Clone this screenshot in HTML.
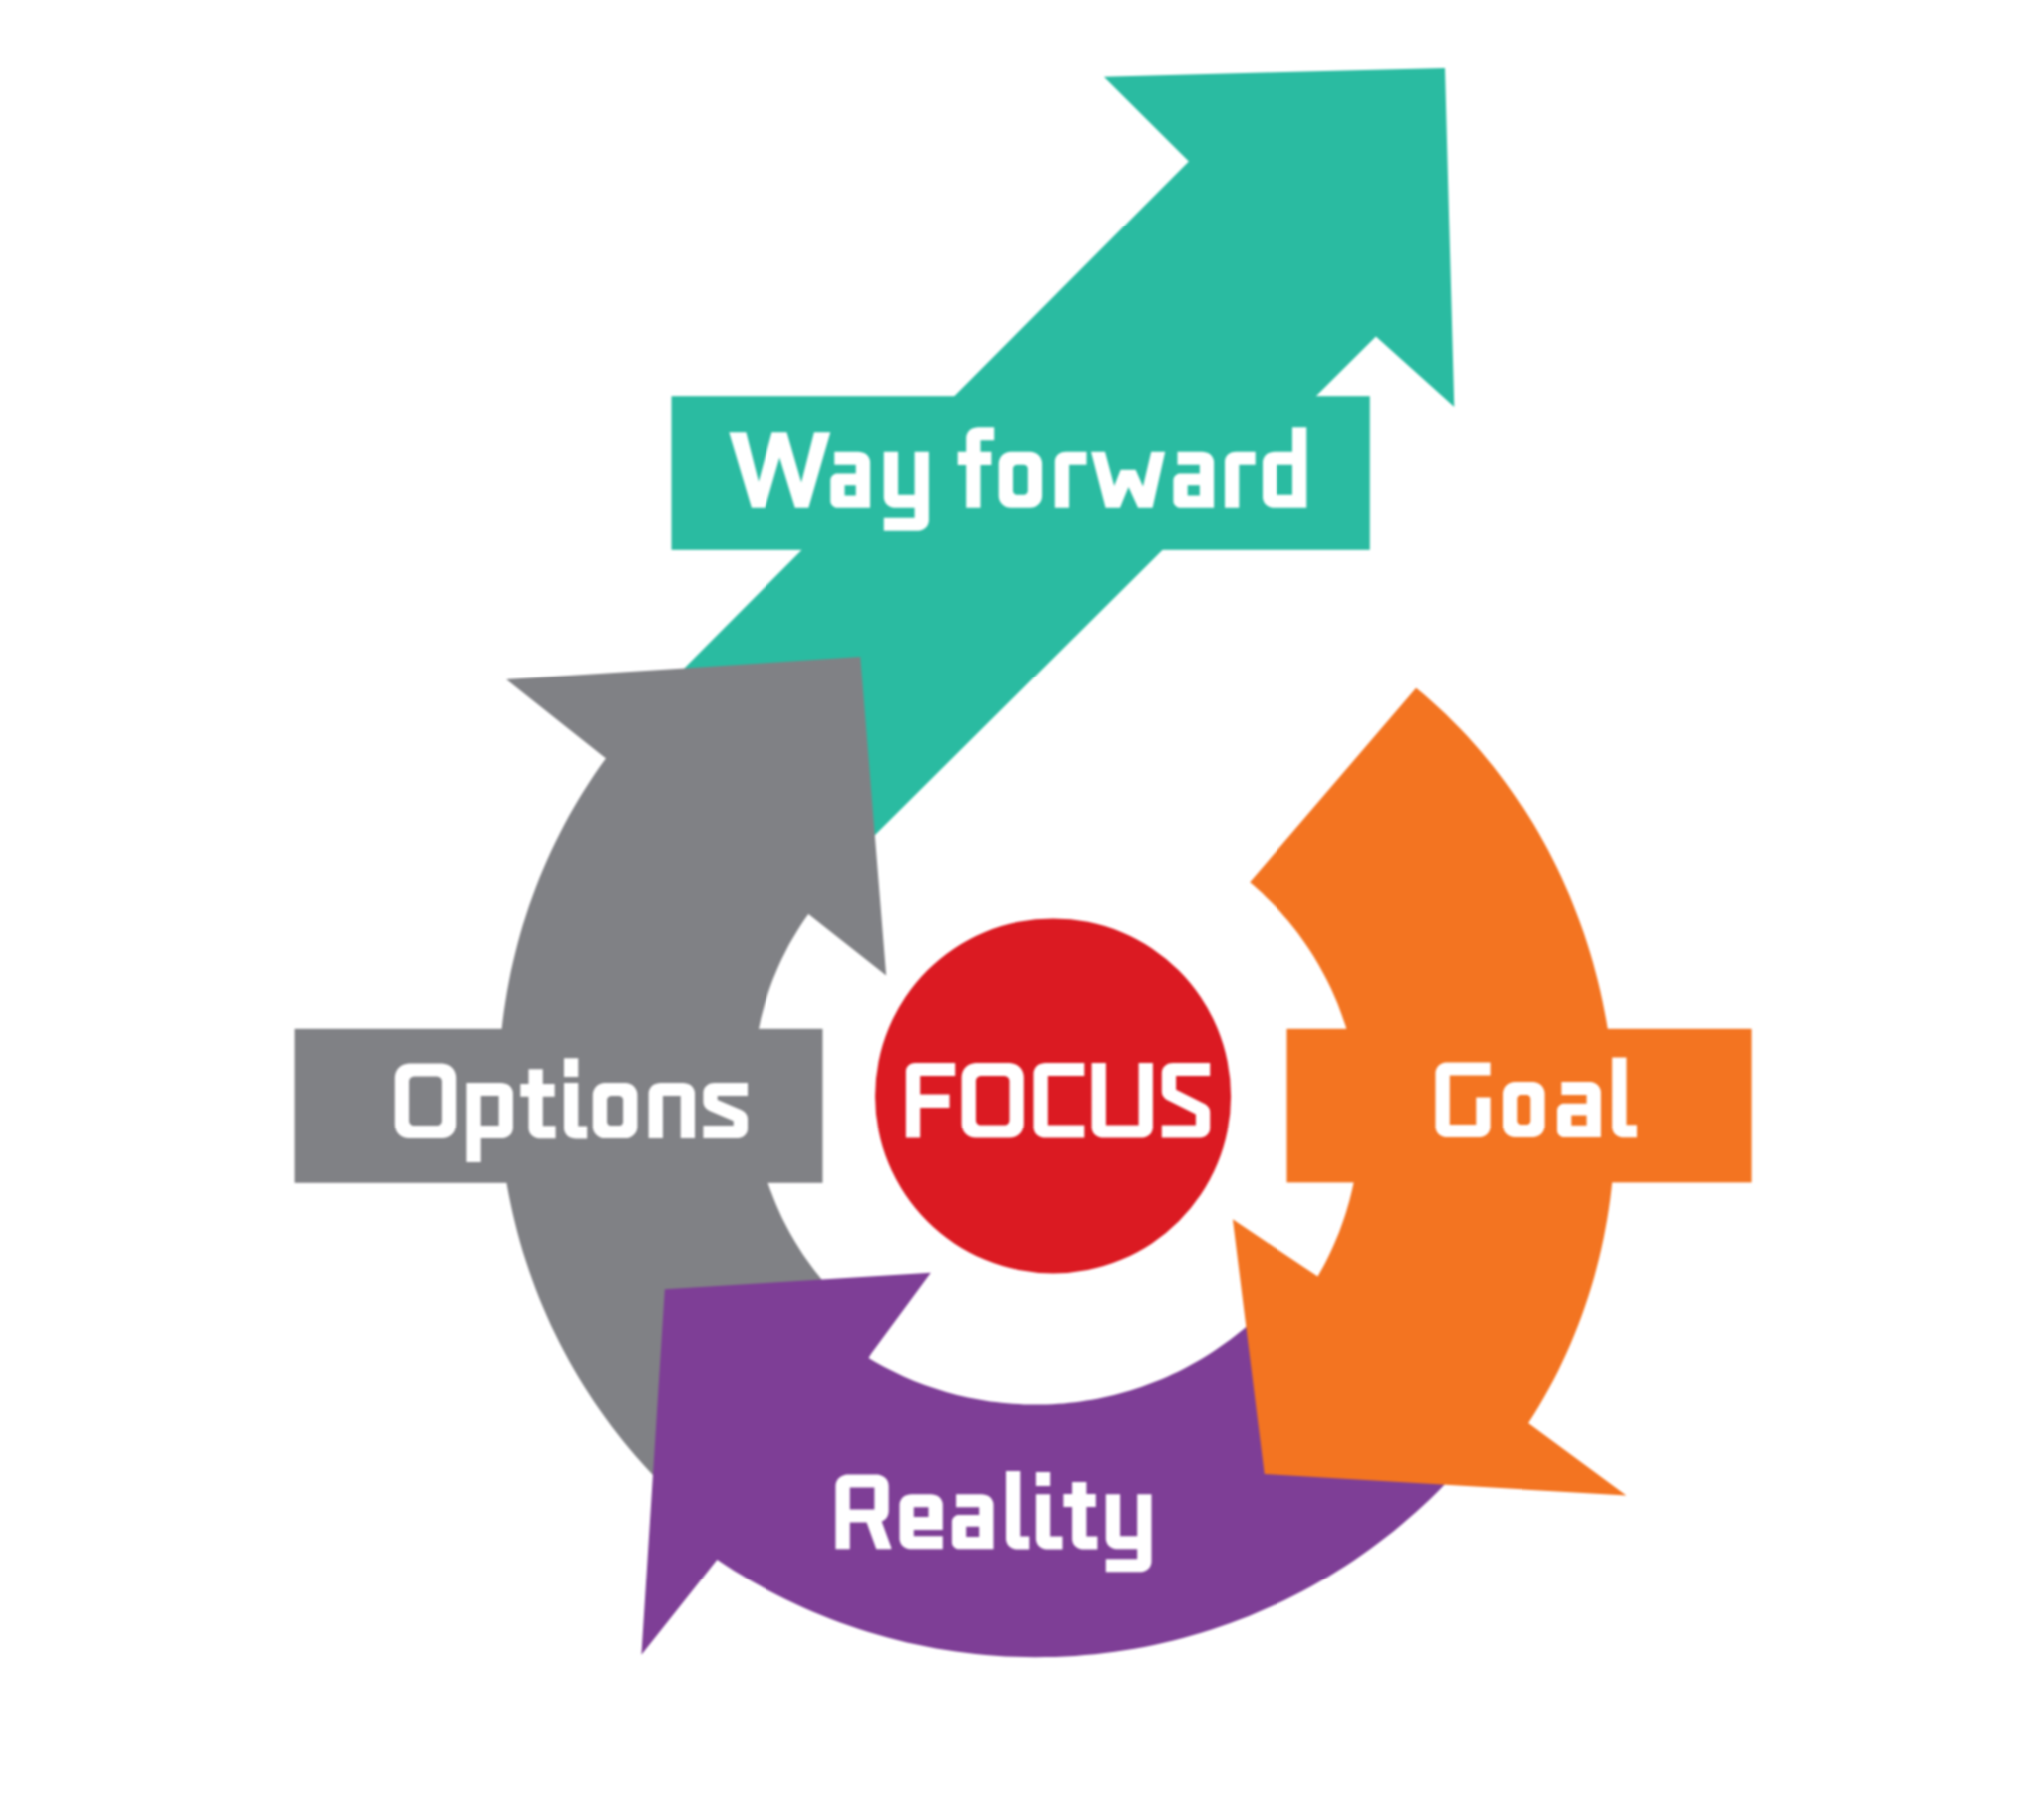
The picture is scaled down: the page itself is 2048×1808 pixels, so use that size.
<!DOCTYPE html>
<html><head><meta charset="utf-8"><title>GROW model</title>
<style>html,body{margin:0;padding:0;background:#fff;width:2048px;height:1808px;overflow:hidden}svg{display:block;filter:blur(1px)}</style>
</head><body>
<svg width="2048" height="1808" viewBox="0 0 2048 1808">
<rect width="2048" height="1808" fill="#ffffff"/>
<g fill="#2ABBA1">
<path d="M672.0,683.0 L1190.9,161.4 L1105.9,76.7 L1448.0,67.9 L1457.3,407.9 L1378.9,337.4 L868.0,846.0 Z"/>
<rect x="672.5" y="397.2" width="700.3" height="153.6"/>
</g>
<g fill="#808185">
<path d="M604.9,758.7 L507.1,681.1 L862.3,658.0 L888.2,977.5 L808.4,914.6 L810.2,915.9 L807.1,920.2 L804.2,924.5 L801.3,929.0 L798.5,933.4 L795.8,938.0 L793.1,942.5 L790.5,947.1 L788.1,951.8 L785.7,956.5 L783.3,961.2 L781.1,966.0 L779.0,970.8 L776.9,975.7 L774.9,980.6 L773.0,985.5 L771.2,990.4 L769.5,995.4 L767.9,1000.5 L766.3,1005.5 L764.9,1010.6 L763.5,1015.7 L762.2,1020.8 L761.1,1025.9 L760.0,1031.1 L759.0,1036.3 L758.1,1041.5 L757.2,1046.7 L756.5,1051.9 L755.9,1057.1 L755.3,1062.4 L754.9,1067.6 L754.5,1072.9 L754.3,1078.2 L754.1,1083.4 L754.0,1088.7 L754.0,1094.0 L754.1,1099.3 L754.3,1104.5 L754.6,1109.8 L755.0,1115.1 L755.5,1120.3 L756.0,1125.6 L756.7,1130.8 L757.5,1136.0 L758.3,1141.2 L759.2,1146.4 L760.3,1151.6 L761.4,1156.8 L762.6,1161.9 L763.9,1167.0 L765.3,1172.1 L766.8,1177.2 L768.3,1182.2 L770.0,1187.2 L771.7,1192.2 L773.6,1197.1 L775.5,1202.1 L777.5,1206.9 L779.6,1211.8 L781.7,1216.6 L784.0,1221.4 L786.3,1226.1 L788.8,1230.8 L791.3,1235.4 L793.9,1240.0 L796.5,1244.6 L799.3,1249.1 L802.1,1253.5 L805.0,1257.9 L808.0,1262.3 L811.1,1266.6 L814.2,1270.8 L817.4,1275.0 L820.7,1279.1 L824.0,1283.2 L827.5,1287.2 L830.9,1291.2 L834.5,1295.1 L838.1,1298.9 L841.8,1302.7 L664.1,1488.4 L657.2,1481.4 L650.4,1474.3 L643.8,1467.1 L637.3,1459.7 L630.9,1452.3 L624.7,1444.7 L618.6,1437.0 L612.6,1429.2 L606.8,1421.3 L601.1,1413.3 L595.5,1405.2 L590.1,1397.1 L584.8,1388.8 L579.7,1380.4 L574.7,1371.9 L569.9,1363.4 L565.2,1354.8 L560.6,1346.1 L556.3,1337.3 L552.0,1328.4 L548.0,1319.5 L544.1,1310.5 L540.3,1301.4 L536.7,1292.3 L533.3,1283.1 L530.0,1273.8 L526.9,1264.5 L523.9,1255.2 L521.1,1245.8 L518.5,1236.3 L516.1,1226.8 L513.8,1217.2 L511.7,1207.7 L509.7,1198.0 L507.9,1188.4 L506.3,1178.7 L504.9,1169.0 L503.6,1159.3 L502.5,1149.5 L501.5,1139.7 L500.8,1130.0 L500.2,1120.2 L499.7,1110.4 L499.5,1100.5 L499.4,1090.7 L499.5,1080.9 L499.7,1071.1 L500.2,1061.3 L500.8,1051.5 L501.6,1041.7 L502.5,1031.9 L503.6,1022.2 L504.9,1012.5 L506.4,1002.7 L508.0,993.1 L509.8,983.4 L511.7,973.8 L513.9,964.2 L516.2,954.7 L518.6,945.2 L521.2,935.7 L524.0,926.3 L527.0,916.9 L530.1,907.6 L533.4,898.4 L536.8,889.2 L540.4,880.1 L544.2,871.0 L548.1,862.0 L552.2,853.1 L556.4,844.2 L560.8,835.4 L565.3,826.7 L570.0,818.1 L574.9,809.5 L579.9,801.1 L585.0,792.7 L590.3,784.5 L595.7,776.3 L601.2,768.2 L607.0,760.2 Z"/>
<rect x="295.6" y="1030.8" width="528.9" height="155.0"/>
</g>
<path fill="#7E3E96" d="M873.3,1356.5 L932.8,1275.8 L665.8,1292.3 L642.4,1658.8 L719.3,1561.7 L718.4,1563.0 L726.7,1568.6 L735.1,1573.9 L743.6,1579.1 L752.1,1584.2 L760.8,1589.1 L769.5,1593.9 L778.3,1598.5 L787.2,1603.0 L796.2,1607.3 L805.3,1611.5 L814.4,1615.4 L823.6,1619.3 L832.9,1622.9 L842.2,1626.5 L851.6,1629.8 L861.0,1633.0 L870.5,1636.0 L880.0,1638.8 L889.6,1641.5 L899.3,1644.0 L908.9,1646.4 L918.7,1648.5 L928.4,1650.5 L938.2,1652.4 L948.0,1654.0 L957.9,1655.5 L967.7,1656.8 L977.6,1658.0 L987.6,1659.0 L997.5,1659.8 L1007.4,1660.4 L1017.4,1660.8 L1027.3,1661.1 L1037.3,1661.2 L1047.2,1661.1 L1057.2,1660.9 L1067.2,1660.5 L1077.1,1659.9 L1087.0,1659.1 L1096.9,1658.2 L1106.8,1657.0 L1116.7,1655.8 L1126.6,1654.3 L1136.4,1652.7 L1146.2,1650.9 L1155.9,1648.9 L1165.7,1646.7 L1175.4,1644.4 L1185.0,1641.9 L1194.6,1639.3 L1204.1,1636.5 L1213.7,1633.5 L1223.1,1630.3 L1232.5,1627.0 L1241.8,1623.5 L1251.1,1619.9 L1260.3,1616.1 L1269.4,1612.1 L1278.5,1608.0 L1287.5,1603.7 L1296.4,1599.3 L1305.2,1594.7 L1314.0,1589.9 L1322.7,1585.0 L1331.3,1580.0 L1339.7,1574.8 L1348.1,1569.4 L1356.5,1563.9 L1364.7,1558.3 L1372.8,1552.5 L1380.8,1546.6 L1388.7,1540.6 L1396.5,1534.4 L1404.2,1528.0 L1411.7,1521.6 L1419.2,1515.0 L1426.6,1508.2 L1433.8,1501.4 L1440.9,1494.4 L1447.9,1487.3 L1454.7,1480.1 L1461.4,1472.7 L1468.0,1465.3 L1474.5,1457.7 L1285.8,1291.9 L1282.1,1296.2 L1278.4,1300.4 L1274.6,1304.6 L1270.7,1308.7 L1266.7,1312.8 L1262.7,1316.7 L1258.6,1320.6 L1254.4,1324.4 L1250.2,1328.2 L1245.9,1331.9 L1241.5,1335.5 L1237.1,1339.0 L1232.6,1342.4 L1228.0,1345.8 L1223.4,1349.1 L1218.8,1352.3 L1214.0,1355.4 L1209.3,1358.4 L1204.4,1361.4 L1199.6,1364.3 L1194.6,1367.0 L1189.7,1369.7 L1184.6,1372.4 L1179.6,1374.9 L1174.5,1377.3 L1169.3,1379.7 L1164.1,1381.9 L1158.9,1384.1 L1153.6,1386.1 L1148.3,1388.1 L1143.0,1390.0 L1137.6,1391.8 L1132.2,1393.5 L1126.8,1395.1 L1121.4,1396.6 L1115.9,1398.0 L1110.4,1399.3 L1104.8,1400.6 L1099.3,1401.7 L1093.7,1402.7 L1088.2,1403.6 L1082.6,1404.5 L1077.0,1405.2 L1071.3,1405.8 L1065.7,1406.4 L1060.1,1406.8 L1054.4,1407.2 L1048.8,1407.4 L1043.1,1407.6 L1037.4,1407.6 L1031.8,1407.5 L1026.1,1407.4 L1020.5,1407.1 L1014.8,1406.8 L1009.2,1406.3 L1003.6,1405.8 L997.9,1405.1 L992.3,1404.4 L986.7,1403.6 L981.1,1402.6 L975.6,1401.6 L970.0,1400.5 L964.5,1399.2 L959.0,1397.9 L953.5,1396.5 L948.1,1395.0 L942.7,1393.3 L937.3,1391.6 L931.9,1389.8 L926.6,1387.9 L921.3,1386.0 L916.0,1383.9 L910.8,1381.7 L905.6,1379.4 L900.5,1377.1 L895.4,1374.6 L890.3,1372.1 L885.3,1369.5 L880.3,1366.8 L875.4,1364.0 L870.5,1361.1 Z"/>
<g fill="#F37421">
<path d="M1255.0,881.0 L1419.9,688.8 L1419.1,689.7 L1426.8,696.1 L1434.4,702.7 L1441.8,709.4 L1449.1,716.3 L1456.3,723.4 L1463.3,730.5 L1470.2,737.8 L1476.9,745.3 L1483.5,752.8 L1489.9,760.5 L1496.3,768.3 L1502.4,776.3 L1508.4,784.3 L1514.3,792.5 L1520.0,800.7 L1525.5,809.1 L1530.9,817.5 L1536.2,826.1 L1541.3,834.7 L1546.2,843.5 L1551.0,852.3 L1555.6,861.2 L1560.1,870.2 L1564.4,879.3 L1568.5,888.4 L1572.5,897.6 L1576.3,906.9 L1579.9,916.2 L1583.4,925.6 L1586.8,935.1 L1589.9,944.6 L1592.9,954.1 L1595.8,963.8 L1598.4,973.4 L1600.9,983.1 L1603.3,992.9 L1605.4,1002.6 L1607.4,1012.5 L1609.3,1022.3 L1611.0,1032.2 L1612.5,1042.1 L1613.8,1052.0 L1615.0,1062.0 L1615.9,1071.9 L1616.8,1081.9 L1617.4,1091.9 L1617.9,1101.9 L1618.2,1111.9 L1618.4,1122.0 L1618.3,1132.0 L1618.1,1142.0 L1617.8,1152.0 L1617.2,1162.0 L1616.5,1172.0 L1615.6,1182.0 L1614.5,1192.0 L1613.3,1201.9 L1611.9,1211.8 L1610.3,1221.7 L1608.5,1231.6 L1606.6,1241.4 L1604.5,1251.2 L1602.2,1261.0 L1599.7,1270.7 L1597.1,1280.4 L1594.3,1290.0 L1591.3,1299.6 L1588.1,1309.1 L1584.8,1318.6 L1581.2,1328.0 L1577.5,1337.3 L1573.7,1346.6 L1569.6,1355.7 L1565.4,1364.8 L1561.0,1373.9 L1556.5,1382.8 L1551.7,1391.6 L1546.8,1400.3 L1541.7,1409.0 L1536.5,1417.5 L1531.1,1425.9 L1530.7,1425.7 L1629.4,1498.6 L1266.7,1477.0 L1234.9,1222.3 L1319.0,1278.6 L1320.5,1279.5 L1323.2,1274.8 L1325.9,1270.0 L1328.4,1265.2 L1330.9,1260.3 L1333.2,1255.4 L1335.5,1250.5 L1337.7,1245.5 L1339.8,1240.5 L1341.9,1235.4 L1343.8,1230.3 L1345.6,1225.2 L1347.4,1220.0 L1349.1,1214.8 L1350.6,1209.6 L1352.1,1204.4 L1353.5,1199.1 L1354.8,1193.8 L1356.0,1188.5 L1357.1,1183.2 L1358.1,1177.8 L1359.0,1172.5 L1359.9,1167.1 L1360.6,1161.7 L1361.3,1156.3 L1361.8,1150.8 L1362.2,1145.4 L1362.6,1140.0 L1362.9,1134.5 L1363.0,1129.1 L1363.1,1123.6 L1363.1,1118.2 L1363.0,1112.7 L1362.7,1107.3 L1362.4,1101.9 L1362.0,1096.4 L1361.5,1091.0 L1360.9,1085.6 L1360.2,1080.2 L1359.4,1074.8 L1358.6,1069.4 L1357.6,1064.1 L1356.5,1058.7 L1355.4,1053.4 L1354.1,1048.1 L1352.8,1042.8 L1351.3,1037.6 L1349.8,1032.3 L1348.2,1027.1 L1346.4,1022.0 L1344.6,1016.8 L1342.7,1011.7 L1340.8,1006.6 L1338.7,1001.6 L1336.5,996.6 L1334.3,991.6 L1332.0,986.7 L1329.5,981.8 L1327.0,977.0 L1324.4,972.2 L1321.8,967.4 L1319.0,962.7 L1316.2,958.1 L1313.3,953.5 L1310.3,948.9 L1307.2,944.4 L1304.0,940.0 L1300.8,935.6 L1297.5,931.3 L1294.1,927.0 L1290.7,922.8 L1287.1,918.7 L1283.5,914.6 L1279.9,910.5 L1276.1,906.6 L1272.3,902.7 L1268.4,898.9 L1264.5,895.1 L1260.5,891.4 L1256.4,887.8 L1252.2,884.3 Z"/>
<rect x="1289.5" y="1030.8" width="465.1" height="154.6"/>
</g>
<circle cx="1055.1" cy="1098.4" r="178" fill="#DB1A22"/>
<g fill="#ffffff" fill-rule="evenodd">
<path d="M730.3,433.3 752.9,508.8 766.6,508.8 781.2,458.5 796.7,508.8 810.4,508.8 832.3,433.3 815.9,433.3 803.1,483.6 788.5,433.3 773.4,433.3 760.0,482.7 747.4,433.3ZM857.8,474.5 839.3,474.5 837.9,474.6 836.6,475.0 835.4,475.7 834.4,476.6 833.5,477.6 832.8,478.8 832.4,480.1 832.3,481.5 832.3,501.8 832.4,503.2 832.8,504.5 833.5,505.7 834.4,506.7 835.4,507.6 836.6,508.3 837.9,508.7 839.3,508.8 857.8,508.8 857.8,508.8 872.1,508.8 872.1,463.6 872.0,461.8 871.4,459.8 870.4,457.7 868.8,455.8 866.7,454.3 864.4,453.4 862.2,452.9 860.2,452.8 836.3,452.8 836.3,465.8 857.8,465.8ZM846.6,496.6 846.6,486.3 857.8,486.3 857.8,496.6ZM885.9,499.8 886.5,501.8 887.5,503.9 889.1,505.8 891.2,507.3 893.5,508.2 895.7,508.7 897.7,508.8 916.6,508.8 916.6,518.8 885.8,518.8 885.8,531.8 919.0,531.8 921.0,531.7 923.2,531.2 925.5,530.3 927.6,528.8 929.2,526.9 930.2,524.8 930.8,522.8 930.9,521.0 930.9,452.8 916.6,452.8 916.6,495.8 900.1,495.8 900.1,452.8 885.8,452.8 885.8,498.0ZM993.4,452.7 982.5,452.7 982.5,441.3 996.2,441.3 996.2,428.3 980.1,428.3 978.1,428.4 975.9,428.9 973.6,429.8 971.5,431.3 969.9,433.2 968.9,435.3 968.3,437.3 968.2,439.1 968.2,452.7 959.7,452.7 959.7,465.9 968.2,465.9 968.2,508.8 982.5,508.8 982.5,465.9 993.4,465.9ZM1043.9,462.5 1043.2,460.2 1042.1,458.1 1040.6,456.3 1038.8,454.8 1036.7,453.7 1034.4,453.0 1032.1,452.8 1012.7,452.8 1010.4,453.0 1008.1,453.7 1006.0,454.8 1004.2,456.3 1002.7,458.1 1001.6,460.2 1000.9,462.5 1000.7,464.8 1000.7,496.8 1000.9,499.1 1001.6,501.4 1002.7,503.5 1004.2,505.3 1006.0,506.8 1008.1,507.9 1010.4,508.6 1012.7,508.8 1032.1,508.8 1034.4,508.6 1036.7,507.9 1038.8,506.8 1040.6,505.3 1042.1,503.5 1043.2,501.4 1043.9,499.1 1044.1,496.8 1044.1,464.8ZM1029.8,491.8 1029.7,492.6 1029.5,493.3 1029.1,494.0 1028.6,494.6 1028.0,495.1 1027.3,495.5 1026.6,495.7 1025.8,495.8 1019.0,495.8 1018.2,495.7 1017.5,495.5 1016.8,495.1 1016.2,494.6 1015.7,494.0 1015.3,493.3 1015.1,492.6 1015.0,491.8 1015.0,469.8 1015.1,469.0 1015.3,468.3 1015.7,467.6 1016.2,467.0 1016.8,466.5 1017.5,466.1 1018.2,465.9 1019.0,465.8 1025.8,465.8 1026.6,465.9 1027.3,466.1 1028.0,466.5 1028.6,467.0 1029.1,467.6 1029.5,468.3 1029.7,469.0 1029.8,469.8ZM1071.1,465.8 1088.5,465.8 1088.5,452.8 1067.7,452.8 1066.0,452.9 1063.9,453.3 1061.8,454.2 1059.9,455.6 1058.4,457.3 1057.4,459.2 1056.9,461.1 1056.8,462.7 1056.8,508.8 1071.1,508.8ZM1122.0,508.8 1130.5,488.1 1140.0,508.8 1154.6,508.8 1167.2,452.8 1153.2,452.8 1145.0,487.4 1137.6,470.8 1122.6,470.8 1116.2,487.0 1107.0,452.8 1093.0,452.8 1107.5,508.8ZM1201.8,474.5 1182.4,474.5 1181.0,474.6 1179.7,475.0 1178.5,475.7 1177.5,476.6 1176.6,477.6 1175.9,478.8 1175.5,480.1 1175.4,481.5 1175.4,501.8 1175.5,503.2 1175.9,504.5 1176.6,505.7 1177.5,506.7 1178.5,507.6 1179.7,508.3 1181.0,508.7 1182.4,508.8 1208.1,508.8 1208.1,508.8 1216.1,508.8 1216.1,463.6 1216.0,461.8 1215.4,459.8 1214.4,457.7 1212.8,455.8 1210.7,454.3 1208.4,453.4 1206.2,452.9 1204.2,452.8 1179.5,452.8 1179.5,465.8 1201.8,465.8ZM1189.7,496.6 1189.7,486.3 1201.8,486.3 1201.8,496.6ZM1241.3,465.8 1257.7,465.8 1257.7,452.8 1237.9,452.8 1236.2,452.9 1234.1,453.3 1232.0,454.2 1230.1,455.6 1228.6,457.3 1227.6,459.2 1227.1,461.1 1227.0,462.7 1227.0,508.8 1241.3,508.8ZM1309.3,508.8 1309.3,428.3 1295.0,428.3 1295.0,452.8 1276.9,452.8 1274.9,452.9 1272.7,453.4 1270.4,454.3 1268.3,455.8 1266.7,457.7 1265.7,459.8 1265.1,461.8 1265.0,463.6 1265.0,498.0 1265.1,499.8 1265.7,501.8 1266.7,503.9 1268.3,505.8 1270.4,507.3 1272.7,508.2 1274.9,508.7 1276.9,508.8 1295.0,508.8 1295.0,508.8ZM1295.0,495.8 1279.3,495.8 1279.3,465.8 1295.0,465.8Z"/>
<path d="M456.9,1076.9 456.1,1074.2 454.8,1071.8 453.1,1069.7 451.0,1068.0 448.6,1066.7 445.9,1065.9 443.2,1065.6 409.8,1065.6 407.1,1065.9 404.4,1066.7 402.0,1068.0 399.9,1069.7 398.2,1071.8 396.9,1074.2 396.1,1076.9 395.8,1079.6 395.8,1127.1 396.1,1129.8 396.9,1132.5 398.2,1134.9 399.9,1137.0 402.0,1138.7 404.4,1140.0 407.1,1140.8 409.8,1141.1 443.2,1141.1 445.9,1140.8 448.6,1140.0 451.0,1138.7 453.1,1137.0 454.8,1134.9 456.1,1132.5 456.9,1129.8 457.2,1127.1 457.2,1079.6ZM442.9,1123.1 442.8,1124.1 442.5,1125.0 442.1,1125.9 441.4,1126.6 440.7,1127.3 439.8,1127.7 438.9,1128.0 437.9,1128.1 415.1,1128.1 414.1,1128.0 413.2,1127.7 412.3,1127.3 411.6,1126.6 410.9,1125.9 410.5,1125.0 410.2,1124.1 410.1,1123.1 410.1,1083.6 410.2,1082.6 410.5,1081.7 410.9,1080.8 411.6,1080.1 412.3,1079.4 413.2,1079.0 414.1,1078.7 415.1,1078.6 437.9,1078.6 438.9,1078.7 439.8,1079.0 440.7,1079.4 441.4,1080.1 442.1,1080.8 442.5,1081.7 442.8,1082.6 442.9,1083.6ZM502.0,1141.1 504.0,1141.0 506.2,1140.5 508.5,1139.6 510.6,1138.1 512.2,1136.2 513.2,1134.1 513.8,1132.1 513.9,1130.3 513.9,1095.9 513.8,1094.1 513.2,1092.1 512.2,1090.0 510.6,1088.1 508.5,1086.6 506.2,1085.7 504.0,1085.2 502.0,1085.1 481.7,1085.1 481.7,1085.1 467.4,1085.1 467.4,1165.1 481.7,1165.1 481.7,1141.1ZM499.6,1128.1 481.7,1128.1 481.7,1098.1 499.6,1098.1ZM555.7,1085.9 543.8,1085.9 543.8,1071.3 529.5,1071.3 529.5,1085.9 521.3,1085.9 521.3,1098.7 529.5,1098.7 529.5,1130.5 529.6,1132.3 530.2,1134.4 531.2,1136.5 532.8,1138.3 534.9,1139.8 537.2,1140.8 539.4,1141.2 541.4,1141.3 556.6,1141.3 556.6,1128.3 543.8,1128.3 543.8,1098.7 555.7,1098.7ZM565.0,1060.3 565.0,1078.9 579.3,1078.9 579.3,1060.3ZM565.1,1132.4 565.7,1134.4 566.7,1136.5 568.3,1138.4 570.4,1139.9 572.7,1140.8 574.9,1141.3 576.9,1141.4 588.2,1141.4 588.2,1128.4 579.3,1128.4 579.3,1085.1 565.0,1085.1 565.0,1130.6ZM638.2,1094.8 637.5,1092.5 636.4,1090.4 634.9,1088.6 633.1,1087.1 631.0,1086.0 628.7,1085.3 626.4,1085.1 605.8,1085.1 603.5,1085.3 601.2,1086.0 599.1,1087.1 597.3,1088.6 595.8,1090.4 594.7,1092.5 594.0,1094.8 593.8,1097.1 593.8,1129.1 594.0,1131.4 594.7,1133.7 595.8,1135.8 597.3,1137.6 599.1,1139.1 601.2,1140.2 603.5,1140.9 605.8,1141.1 626.4,1141.1 628.7,1140.9 631.0,1140.2 633.1,1139.1 634.9,1137.6 636.4,1135.8 637.5,1133.7 638.2,1131.4 638.4,1129.1 638.4,1097.1ZM624.1,1124.1 624.0,1124.9 623.8,1125.6 623.4,1126.3 622.9,1126.9 622.3,1127.4 621.6,1127.8 620.9,1128.0 620.1,1128.1 612.1,1128.1 611.3,1128.0 610.6,1127.8 609.9,1127.4 609.3,1126.9 608.8,1126.3 608.4,1125.6 608.2,1124.9 608.1,1124.1 608.1,1102.1 608.2,1101.3 608.4,1100.6 608.8,1099.9 609.3,1099.3 609.9,1098.8 610.6,1098.4 611.3,1098.2 612.1,1098.1 620.1,1098.1 620.9,1098.2 621.6,1098.4 622.3,1098.8 622.9,1099.3 623.4,1099.9 623.8,1100.6 624.0,1101.3 624.1,1102.1ZM663.9,1098.1 681.7,1098.1 681.7,1141.1 696.0,1141.1 696.0,1095.9 695.9,1094.1 695.3,1092.1 694.3,1090.0 692.7,1088.1 690.6,1086.6 688.3,1085.7 686.1,1085.2 684.1,1085.1 661.5,1085.1 659.5,1085.2 657.3,1085.7 655.0,1086.6 652.9,1088.1 651.3,1090.0 650.3,1092.1 649.7,1094.1 649.6,1095.9 649.6,1141.1 663.9,1141.1ZM718.7,1098.1 749.0,1098.1 749.0,1085.1 715.3,1085.1 713.6,1085.2 711.5,1085.6 709.4,1086.5 707.5,1087.9 706.0,1089.6 705.0,1091.5 704.5,1093.4 704.4,1095.0 704.4,1104.0 704.5,1105.2 704.8,1106.5 705.3,1107.9 706.1,1109.3 707.1,1110.5 708.2,1111.5 709.5,1112.3 710.6,1112.9 734.7,1123.2 734.7,1128.1 704.4,1128.1 704.4,1141.1 738.1,1141.1 739.8,1141.0 741.9,1140.6 744.0,1139.7 745.9,1138.3 747.4,1136.6 748.4,1134.7 748.9,1132.8 749.0,1131.2 749.0,1121.2 748.9,1120.0 748.6,1118.7 748.1,1117.3 747.3,1115.9 746.3,1114.7 745.2,1113.7 743.9,1112.9 742.8,1112.3 718.7,1102.0Z"/>
<path d="M915.5,1065.2 913.9,1065.5 912.1,1066.3 910.5,1067.4 909.2,1068.9 908.4,1070.5 908.0,1072.0 907.9,1073.2 907.9,1140.6 922.2,1140.6 922.2,1110.1 951.5,1110.1 951.5,1096.4 922.2,1096.4 922.2,1078.1 957.2,1078.1 957.2,1065.1 916.8,1065.1ZM1025.5,1076.4 1024.7,1073.7 1023.4,1071.3 1021.7,1069.2 1019.6,1067.5 1017.2,1066.2 1014.5,1065.4 1011.8,1065.1 977.6,1065.1 974.9,1065.4 972.2,1066.2 969.8,1067.5 967.7,1069.2 966.0,1071.3 964.7,1073.7 963.9,1076.4 963.6,1079.1 963.6,1126.6 963.9,1129.3 964.7,1132.0 966.0,1134.4 967.7,1136.5 969.8,1138.2 972.2,1139.5 974.9,1140.3 977.6,1140.6 1011.8,1140.6 1014.5,1140.3 1017.2,1139.5 1019.6,1138.2 1021.7,1136.5 1023.4,1134.4 1024.7,1132.0 1025.5,1129.3 1025.8,1126.6 1025.8,1079.1ZM1011.5,1122.6 1011.4,1123.6 1011.1,1124.5 1010.7,1125.4 1010.0,1126.1 1009.3,1126.8 1008.4,1127.2 1007.5,1127.5 1006.5,1127.6 982.9,1127.6 981.9,1127.5 981.0,1127.2 980.1,1126.8 979.4,1126.1 978.7,1125.4 978.3,1124.5 978.0,1123.6 977.9,1122.6 977.9,1083.1 978.0,1082.1 978.3,1081.2 978.7,1080.3 979.4,1079.6 980.1,1078.9 981.0,1078.5 981.9,1078.2 982.9,1078.1 1006.5,1078.1 1007.5,1078.2 1008.4,1078.5 1009.3,1078.9 1010.0,1079.6 1010.7,1080.3 1011.1,1081.2 1011.4,1082.1 1011.5,1083.1ZM1047.4,1065.1 1045.4,1065.2 1043.2,1065.7 1040.9,1066.6 1038.8,1068.1 1037.2,1070.0 1036.2,1072.1 1035.6,1074.1 1035.5,1075.9 1035.5,1129.8 1035.6,1131.6 1036.2,1133.6 1037.2,1135.7 1038.8,1137.6 1040.9,1139.1 1043.2,1140.0 1045.4,1140.5 1047.4,1140.6 1086.3,1140.6 1086.3,1127.6 1049.8,1127.6 1049.8,1078.1 1086.3,1078.1 1086.3,1065.1ZM1093.6,1129.8 1093.7,1131.6 1094.3,1133.6 1095.3,1135.7 1096.9,1137.6 1099.0,1139.1 1101.3,1140.0 1103.5,1140.5 1105.5,1140.6 1143.0,1140.6 1145.0,1140.5 1147.2,1140.0 1149.5,1139.1 1151.6,1137.6 1153.2,1135.7 1154.2,1133.6 1154.8,1131.6 1154.9,1129.8 1154.9,1065.1 1140.6,1065.1 1140.6,1127.6 1107.9,1127.6 1107.9,1065.1 1093.6,1065.1ZM1178.1,1078.1 1212.2,1078.1 1212.2,1065.1 1174.7,1065.1 1173.0,1065.2 1170.9,1065.6 1168.8,1066.5 1166.9,1067.9 1165.4,1069.6 1164.4,1071.5 1163.9,1073.4 1163.8,1075.0 1163.8,1093.6 1163.9,1094.7 1164.1,1096.1 1164.6,1097.4 1165.3,1098.6 1166.2,1099.8 1167.2,1100.8 1168.4,1101.7 1169.4,1102.2 1197.9,1116.4 1197.9,1127.6 1163.8,1127.6 1163.8,1140.6 1201.3,1140.6 1203.0,1140.5 1205.1,1140.1 1207.2,1139.2 1209.1,1137.8 1210.6,1136.1 1211.6,1134.2 1212.1,1132.3 1212.2,1130.7 1212.2,1114.6 1212.1,1113.5 1211.9,1112.1 1211.4,1110.8 1210.7,1109.6 1209.8,1108.4 1208.8,1107.4 1207.6,1106.5 1206.6,1106.0 1178.1,1091.8Z"/>
<path d="M1450.4,1064.5 1448.4,1064.6 1446.2,1065.1 1443.9,1066.0 1441.8,1067.5 1440.2,1069.4 1439.2,1071.5 1438.6,1073.5 1438.5,1075.3 1438.5,1129.2 1438.6,1131.0 1439.2,1133.0 1440.2,1135.1 1441.8,1137.0 1443.9,1138.5 1446.2,1139.4 1448.4,1139.9 1450.4,1140.0 1481.7,1140.0 1483.7,1139.9 1485.9,1139.4 1488.2,1138.5 1490.3,1137.0 1491.9,1135.1 1492.9,1133.0 1493.5,1131.0 1493.6,1129.2 1493.6,1099.5 1479.3,1099.5 1479.3,1127.0 1452.8,1127.0 1452.8,1077.5 1493.6,1077.5 1493.6,1064.5ZM1547.4,1093.7 1546.7,1091.4 1545.6,1089.3 1544.1,1087.5 1542.3,1086.0 1540.2,1084.9 1537.9,1084.2 1535.6,1084.0 1518.0,1084.0 1515.7,1084.2 1513.4,1084.9 1511.3,1086.0 1509.5,1087.5 1508.0,1089.3 1506.9,1091.4 1506.2,1093.7 1506.0,1096.0 1506.0,1128.0 1506.2,1130.3 1506.9,1132.6 1508.0,1134.7 1509.5,1136.5 1511.3,1138.0 1513.4,1139.1 1515.7,1139.8 1518.0,1140.0 1535.6,1140.0 1537.9,1139.8 1540.2,1139.1 1542.3,1138.0 1544.1,1136.5 1545.6,1134.7 1546.7,1132.6 1547.4,1130.3 1547.6,1128.0 1547.6,1096.0ZM1533.3,1123.0 1533.2,1123.8 1533.0,1124.5 1532.6,1125.2 1532.1,1125.8 1531.5,1126.3 1530.8,1126.7 1530.1,1126.9 1529.3,1127.0 1524.3,1127.0 1523.5,1126.9 1522.8,1126.7 1522.1,1126.3 1521.5,1125.8 1521.0,1125.2 1520.6,1124.5 1520.4,1123.8 1520.3,1123.0 1520.3,1101.0 1520.4,1100.2 1520.6,1099.5 1521.0,1098.8 1521.5,1098.2 1522.1,1097.7 1522.8,1097.3 1523.5,1097.1 1524.3,1097.0 1529.3,1097.0 1530.1,1097.1 1530.8,1097.3 1531.5,1097.7 1532.1,1098.2 1532.6,1098.8 1533.0,1099.5 1533.2,1100.2 1533.3,1101.0ZM1589.6,1105.7 1567.0,1105.7 1565.6,1105.8 1564.3,1106.2 1563.1,1106.9 1562.1,1107.8 1561.2,1108.8 1560.5,1110.0 1560.1,1111.3 1560.0,1112.7 1560.0,1133.0 1560.1,1134.4 1560.5,1135.7 1561.2,1136.9 1562.1,1137.9 1563.1,1138.8 1564.3,1139.5 1565.6,1139.9 1567.0,1140.0 1589.6,1140.0 1589.6,1140.0 1603.9,1140.0 1603.9,1094.8 1603.8,1093.0 1603.2,1091.0 1602.2,1088.9 1600.6,1087.0 1598.5,1085.5 1596.2,1084.6 1594.0,1084.1 1592.0,1084.0 1564.4,1084.0 1564.4,1097.0 1589.6,1097.0ZM1574.3,1127.8 1574.3,1117.5 1589.6,1117.5 1589.6,1127.8ZM1615.2,1129.5 1615.3,1131.3 1615.9,1133.3 1616.9,1135.4 1618.5,1137.3 1620.6,1138.8 1622.9,1139.7 1625.1,1140.2 1627.1,1140.3 1640.0,1140.3 1640.0,1127.3 1629.5,1127.3 1629.5,1059.5 1615.2,1059.5Z"/>
<path d="M868.6,1525.6 878.3,1552.3 893.4,1552.3 893.2,1550.5 883.7,1524.4 884.9,1523.9 887.1,1522.4 888.9,1520.4 890.0,1518.1 890.5,1515.9 890.7,1513.9 890.7,1489.2 890.5,1487.2 890.0,1485.0 888.9,1482.7 887.1,1480.7 884.9,1479.2 882.5,1478.2 880.0,1477.6 877.8,1477.5 850.4,1477.5 848.2,1477.6 845.7,1478.2 843.3,1479.2 841.1,1480.7 839.3,1482.7 838.2,1485.0 837.6,1487.2 837.5,1489.2 837.5,1552.3 851.8,1552.3 851.8,1525.6ZM876.4,1490.5 876.4,1512.6 851.8,1512.6 851.8,1490.5ZM915.8,1532.9 944.8,1532.9 944.8,1532.8 944.8,1519.9 944.8,1508.1 944.7,1506.3 944.1,1504.3 943.1,1502.2 941.5,1500.3 939.4,1498.8 937.1,1497.9 934.9,1497.4 932.9,1497.3 913.4,1497.3 911.4,1497.4 909.2,1497.9 906.9,1498.8 904.8,1500.3 903.2,1502.2 902.2,1504.3 901.6,1506.3 901.5,1508.1 901.5,1541.5 901.6,1543.3 902.2,1545.3 903.2,1547.4 904.8,1549.3 906.9,1550.8 909.2,1551.7 911.4,1552.2 913.4,1552.3 944.8,1552.3 944.8,1539.3 915.8,1539.3ZM915.8,1510.3 930.5,1510.3 930.5,1519.9 915.8,1519.9ZM981.2,1518.0 960.9,1518.0 959.5,1518.1 958.2,1518.5 957.0,1519.2 956.0,1520.1 955.1,1521.1 954.4,1522.3 954.0,1523.6 953.9,1525.0 953.9,1545.3 954.0,1546.7 954.4,1548.0 955.1,1549.2 956.0,1550.2 957.0,1551.1 958.2,1551.8 959.5,1552.2 960.9,1552.3 987.5,1552.3 987.5,1552.3 995.5,1552.3 995.5,1508.1 995.4,1506.3 994.8,1504.3 993.8,1502.2 992.2,1500.3 990.1,1498.8 987.8,1497.9 985.6,1497.4 983.6,1497.3 958.1,1497.3 958.1,1510.3 981.2,1510.3ZM968.2,1540.1 968.2,1529.8 981.2,1529.8 981.2,1540.1ZM1008.0,1541.8 1008.1,1543.6 1008.7,1545.6 1009.7,1547.7 1011.3,1549.6 1013.4,1551.1 1015.7,1552.0 1017.9,1552.5 1019.9,1552.6 1031.3,1552.6 1031.3,1539.6 1022.3,1539.6 1022.3,1474.1 1008.0,1474.1ZM1037.9,1475.0 1037.9,1489.1 1052.2,1489.1 1052.2,1475.0ZM1038.0,1543.6 1038.6,1545.6 1039.6,1547.7 1041.2,1549.6 1043.3,1551.1 1045.6,1552.0 1047.8,1552.5 1049.8,1552.6 1064.5,1552.6 1064.5,1539.6 1052.2,1539.6 1052.2,1497.3 1037.9,1497.3 1037.9,1541.8ZM1097.8,1497.1 1088.4,1497.1 1088.4,1485.0 1074.1,1485.0 1074.1,1497.1 1065.4,1497.1 1065.4,1509.9 1074.1,1509.9 1074.1,1541.7 1074.2,1543.5 1074.7,1545.6 1075.7,1547.7 1077.4,1549.5 1079.4,1551.0 1081.7,1552.0 1084.0,1552.4 1086.0,1552.5 1099.4,1552.5 1099.4,1539.5 1088.4,1539.5 1088.4,1509.9 1097.8,1509.9ZM1107.9,1543.3 1108.5,1545.3 1109.5,1547.4 1111.1,1549.3 1113.2,1550.8 1115.5,1551.7 1117.7,1552.2 1119.7,1552.3 1139.2,1552.3 1139.2,1562.3 1107.8,1562.3 1107.8,1575.3 1141.6,1575.3 1143.6,1575.2 1145.8,1574.7 1148.1,1573.8 1150.2,1572.3 1151.8,1570.4 1152.8,1568.3 1153.4,1566.3 1153.5,1564.5 1153.5,1497.3 1139.2,1497.3 1139.2,1539.3 1122.1,1539.3 1122.1,1497.3 1107.8,1497.3 1107.8,1541.5Z"/>
</g>
</svg>
</body></html>
